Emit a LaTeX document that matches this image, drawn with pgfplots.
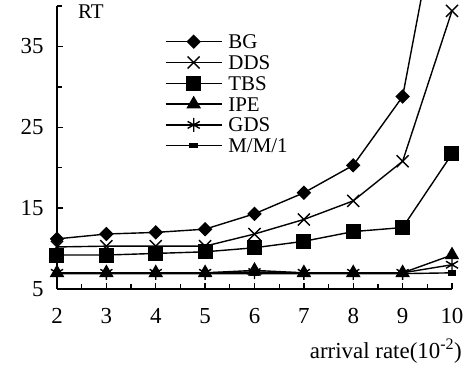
\documentclass[border=0pt]{standalone}
\usepackage{fontspec}
\setmainfont{Liberation Serif}
\usepackage{pgfplots}
\pgfplotsset{compat=1.18}
\begin{document}
\begin{tikzpicture}
\useasboundingbox (-57bp,-78bp) rectangle (414bp,289bp);
\begin{axis}[
  at={(0,0)}, anchor=south west,
  scale only axis, width=395bp, height=283bp,
  xmin=2, xmax=10, ymin=5, ymax=40,
  axis lines*=left,
  clip=false,
  xtick={2,...,10}, minor x tick num=1,
  ytick={5,15,25,35}, minor ytick={10,20,30,40},
  tick align=inside,
  major tick length=6bp, minor tick length=5bp,
  every tick/.style={line width=1.3bp, black},
  axis line style={line width=1.5bp},
  /pgf/number format/assume math mode=true,
  tick label style={font=\fontsize{23}{23}\selectfont},
  xticklabel style={yshift=-16bp},
  yticklabel style={xshift=-10bp},
  xlabel={arrival rate(10\textsuperscript{-2})},
  xlabel style={at={(axis description cs:1,0)}, anchor=east, inner sep=0pt, xshift=10bp, yshift=-62bp, font=\fontsize{23}{23}\selectfont},
  legend cell align=left,
  legend style={draw=none, fill=none, inner sep=0pt, outer sep=0pt,
    at={(axis description cs:0,1)}, anchor=north west, xshift=108bp, yshift=-25.3bp,
    column sep=6bp,
    nodes={inner sep=0pt, text height=17.4bp, text depth=3.4bp},
    font=\fontsize{21}{21}\selectfont},
  legend image code/.code={\draw[mark repeat=2,mark phase=2,#1] plot coordinates {(0bp,0bp) (28bp,0bp) (56bp,0bp)};},
  every axis plot/.append style={line width=1.4bp, black, solid},
]
\addplot[black, solid, mark=square*, mark size=4.4bp, mark options={rotate=45, fill=black, solid}] coordinates {
 (2,11.2) (3,11.8) (4,12.0) (5,12.4) (6,14.3) (7,16.9) (8,20.3) (9,28.8) (10,61)};
\addlegendentry{BG}
\addplot[black, solid, mark=x, mark size=8.5bp, mark options={solid}] coordinates {
 (2,10.2) (3,10.3) (4,10.3) (5,10.3) (6,11.8) (7,13.6) (8,15.9) (9,20.8) (10,39.4)};
\addlegendentry{DDS}
\addplot[black, solid, mark=square*, mark size=6.8bp, mark options={fill=black, solid}] coordinates {
 (2,9.2) (3,9.2) (4,9.4) (5,9.6) (6,10.1) (7,10.9) (8,12.1) (9,12.6) (10,21.7)};
\addlegendentry{TBS}
\addplot[black, solid, mark=triangle*, mark size=7bp, mark options={fill=black, solid}] coordinates {
 (2,7.0) (3,7.0) (4,7.0) (5,7.0) (6,7.3) (7,7.0) (8,7.0) (9,7.0) (10,9.2)};
\addlegendentry{IPE}
\addplot[black, solid, mark=asterisk, mark size=7bp, mark options={solid}] coordinates {
 (2,7.0) (3,7.0) (4,7.0) (5,7.0) (6,7.1) (7,7.0) (8,7.0) (9,7.0) (10,8.0)};
\addlegendentry{GDS}
\addplot[black, solid, mark=square*, mark size=3.6bp, mark options={yscale=0.55, fill=black, solid}] coordinates {
 (2,6.9) (3,6.9) (4,6.9) (5,6.9) (6,6.9) (7,6.9) (8,6.9) (9,6.9) (10,7.0)};
\addlegendentry{M/M/1}
\node[anchor=west, inner sep=0pt, font=\fontsize{21}{21}\selectfont, xshift=21bp, yshift=-6bp] at (axis description cs:0,1) {RT};
\end{axis}
\end{tikzpicture}
\end{document}
